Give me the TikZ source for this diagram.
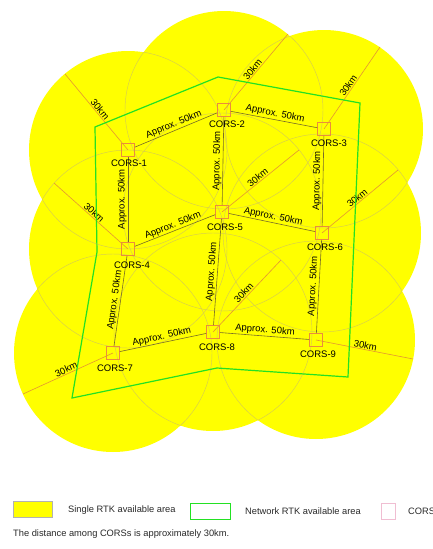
\documentclass[tikz,border=0pt]{standalone}
\usepackage{fontspec}
\setmainfont{Liberation Sans}
\definecolor{cfill}{RGB}{255,255,0}
\definecolor{cline}{RGB}{214,204,80}
\definecolor{linkc}{RGB}{120,108,40}
\definecolor{boxor}{RGB}{235,140,60}
\definecolor{radc}{RGB}{228,150,50}
\definecolor{netgreen}{RGB}{35,225,35}
\definecolor{pinkc}{RGB}{240,190,210}
\definecolor{txtc}{RGB}{40,40,40}
\newcommand\ringclip[2]{\begin{scope}\clip \foreach \q in {#2}{(\q) circle (99pt)};
  \draw[cline, line width=0.45pt] (#1) circle (99pt);\end{scope}}
\begin{document}
\begin{tikzpicture}[x=1pt,y=-1pt,
  corsbox/.style={draw=boxor, line width=0.6pt, minimum size=13pt, inner sep=0pt},
  corslabel/.style={font=\fontsize{9.5}{10}\selectfont, inner sep=0pt, text=black},
  link/.style={draw=linkc, line width=0.6pt},
  dist/.style={font=\fontsize{9.5}{10}\selectfont, sloped, above, inner sep=1pt, midway, text=black},
  radline/.style={draw=radc, line width=0.6pt},
  rlabel/.style={font=\fontsize{9.5}{10}\selectfont, sloped, above, inner sep=0.8pt, pos=0.5, text=black},
  legtext/.style={font=\fontsize{9.3}{10}\selectfont, inner sep=0pt, anchor=west, text=txtc}]
\useasboundingbox (0,0) rectangle (432,549);
% station positions
\coordinate (p1) at (128,150);
\coordinate (p2) at (224,110);
\coordinate (p3) at (324,129);
\coordinate (p4) at (128,249);
\coordinate (p5) at (222,212);
\coordinate (p6) at (322,233);
\coordinate (p7) at (113,353);
\coordinate (p8) at (213,332);
\coordinate (p9) at (316,340);
% coverage circles
\foreach \p in {p1,p2,p3,p4,p5,p6,p7,p8,p9}
  \fill[cfill] (\p) circle (99pt);
% circle outlines, only inside the covered area
\ringclip{p1}{p2,p3,p4,p5,p6,p7,p8,p9}
\ringclip{p2}{p1,p3,p4,p5,p6,p7,p8,p9}
\ringclip{p3}{p1,p2,p4,p5,p6,p7,p8,p9}
\ringclip{p4}{p1,p2,p3,p5,p6,p7,p8,p9}
\ringclip{p5}{p1,p2,p3,p4,p6,p7,p8,p9}
\ringclip{p6}{p1,p2,p3,p4,p5,p7,p8,p9}
\ringclip{p7}{p1,p2,p3,p4,p5,p6,p8,p9}
\ringclip{p8}{p1,p2,p3,p4,p5,p6,p7,p9}
\ringclip{p9}{p1,p2,p3,p4,p5,p6,p7,p8}
% stations
\foreach \i in {1,...,9}
  \node[corsbox] (c\i) at (p\i) {};
% radius lines
\coordinate (r1) at (65,74);
\coordinate (r2) at (288,34);
\coordinate (r3) at (380,47);
\coordinate (r5) at (299,150);
\coordinate (r4) at (54,183);
\coordinate (r6) at (398,170);
\coordinate (r8) at (281,260);
\coordinate (r9) at (413,359);
\coordinate (r7) at (23,394);
\draw[radline] (c1.center) -- (r1) node[rlabel] (l1) {30km};
\draw[radline] (c2.center) -- (r2) node[rlabel] (l2) {30km};
\draw[radline] (c3.center) -- (r3) node[rlabel] (l3) {30km};
\draw[radline] (c4.center) -- (r4) node[rlabel] (l4) {30km};
\draw[radline] (c5.center) -- (r5) node[rlabel] (l5) {30km};
\draw[radline] (c6.center) -- (r6) node[rlabel] (l6) {30km};
\draw[radline] (c7.center) -- (r7) node[rlabel] (l7) {30km};
\draw[radline] (c8.center) -- (r8) node[rlabel] (l8) {30km};
\draw[radline] (c9.center) -- (r9) node[rlabel] (l9) {30km};
% links
\draw[link] (c1) -- (c2) node[dist] (d12) {Approx. 50km};
\draw[link] (c2) -- (c3) node[dist] (d23) {Approx. 50km};
\draw[link] (c4) -- (c5) node[dist] (d45) {Approx. 50km};
\draw[link] (c5) -- (c6) node[dist] (d56) {Approx. 50km};
\draw[link] (c7) -- (c8) node[dist] (d78) {Approx. 50km};
\draw[link] (c8) -- (c9) node[dist] (d89) {Approx. 50km};
\draw[link] (c4) -- (c1) node[dist] (d14) {Approx. 50km};
\draw[link] (c7) -- (c4) node[dist] (d47) {Approx. 50km};
\draw[link] (c5) -- (c2) node[dist] (d25) {Approx. 50km};
\draw[link] (c8) -- (c5) node[dist] (d58) {Approx. 50km};
\draw[link] (c6) -- (c3) node[dist] (d36) {Approx. 50km};
\draw[link] (c9) -- (c6) node[dist] (d69) {Approx. 50km};
% network area
\draw[netgreen, line width=1.2pt, line join=miter]
  (95,127) -- (218,77) -- (360,103) -- (348,377) -- (217,368) -- (72,398) -- (97,252) -- cycle;
% station labels
\node[corslabel] (t1) at (129,163) {CORS-1};
\node[corslabel] (t2) at (227,124) {CORS-2};
\node[corslabel] (t3) at (329,143) {CORS-3};
\node[corslabel] (t4) at (132,265) {CORS-4};
\node[corslabel] (t5) at (225,227) {CORS-5};
\node[corslabel] (t6) at (325,247) {CORS-6};
\node[corslabel] (t7) at (115,368) {CORS-7};
\node[corslabel] (t8) at (217,347) {CORS-8};
\node[corslabel] (t9) at (318,354) {CORS-9};
% legend
\node[draw=black!30, fill=cfill, minimum width=39pt, minimum height=16pt, inner sep=0pt, anchor=north west] (lgy) at (13,501) {};
\node[legtext] (lgyt) at (68,510) {Single RTK available area};
\node[draw=netgreen, line width=1pt, minimum width=40pt, minimum height=16pt, inner sep=0pt, anchor=north west] (lgg) at (190,503) {};
\node[legtext] (lggt) at (245,511) {Network RTK available area};
\node[draw=pinkc, line width=0.6pt, minimum width=14pt, minimum height=16pt, inner sep=0pt, anchor=north west] (lgp) at (381,503) {};
\node[legtext] (lgpt) at (408,511) {CORS};
\node[legtext] (note) at (13,534) {The distance among CORSs is approximately 30km.};
\end{tikzpicture}
\end{document}
